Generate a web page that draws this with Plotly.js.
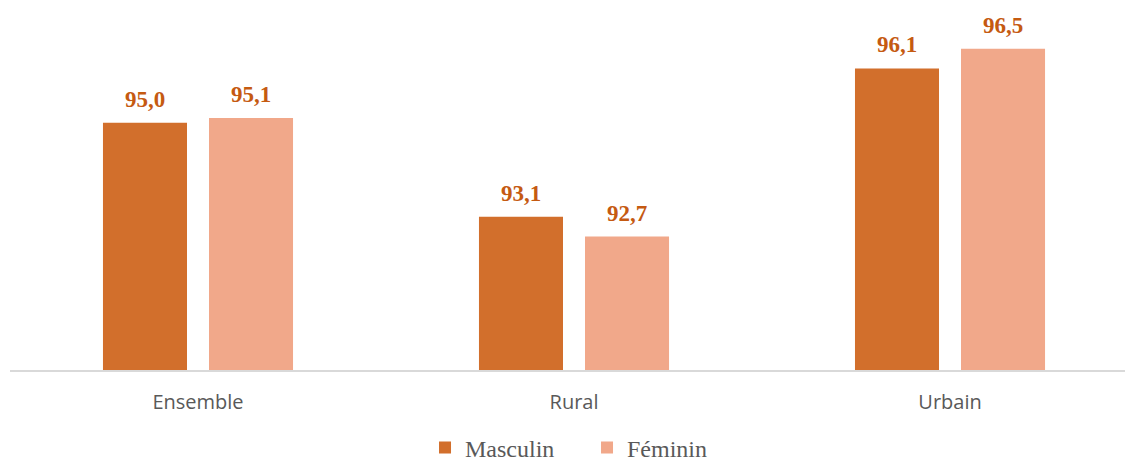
<!DOCTYPE html>
<html>
<head>
<meta charset="utf-8">
<script src="https://cdn.plot.ly/plotly-3.0.1.min.js"></script>
<style>html,body{margin:0;padding:0;background:#fff;}#chart{width:1125px;height:461px;}</style>
</head>
<body>
<div id="chart"></div>
<script>
const categories = ["Ensemble", "Rural", "Urbain"];
const masculin = [95.0, 93.1, 96.1];
const feminin = [95.1, 92.7, 96.5];
const seriesNames = ["Masculin", "Féminin"];
const seriesColors = ["#D26F2C", "#F1A88A"];

function fmt(v){ return v.toFixed(1).replace('.', ','); }

const labelFont = {family: "Liberation Serif, Times New Roman, serif", size: 23, color: "#C55A11", weight: 700};

const seriesValues = [masculin, feminin];
const traces = seriesValues.map((vals, i) => ({
  type: "bar", name: seriesNames[i], x: categories, y: vals,
  marker: {color: seriesColors[i]}, hoverinfo: "none"
}));

// value labels above each bar (bar centres are ±53 px from group centre)
const offsets = [-53, 53];
const annotations = [];
seriesValues.forEach((vals, i) => {
  vals.forEach((v, j) => {
    annotations.push({x: categories[j], y: v, xref: "x", yref: "y", text: fmt(v),
      showarrow: false, xshift: offsets[i], yshift: 9, yanchor: "bottom", xanchor: "center",
      font: labelFont});
  });
});

const layout = {
  width: 1125, height: 461,
  margin: {l: 10, r: 0, t: 24, b: 91, autoexpand: false},
  paper_bgcolor: "#fff", plot_bgcolor: "#fff",
  barmode: "group", bargap: 0.436, bargroupgap: 0.2075,
  showlegend: true,
  legend: {orientation: "h", x: 0.5175, xanchor: "center", y: -0.225, yanchor: "middle",
           font: {family: "Liberation Serif, Times New Roman, serif", size: 24, color: "#595959"},
           itemwidth: 30, entrywidth: 117, entrywidthmode: "pixels", traceorder: "normal"},
  annotations: annotations,
  xaxis: {type: "category", range: [-0.5, 2.4654], showline: true, linecolor: "#D9D9D9", linewidth: 2,
          ticks: "", tickfont: {family: "Open Sans, sans-serif", size: 20, color: "#595959"},
          ticklabelstandoff: 13, automargin: false, fixedrange: true},
  yaxis: {range: [90, 97], visible: false, showgrid: false, zeroline: false, fixedrange: true}
};

Plotly.newPlot("chart", traces, layout, {displayModeBar: false, staticPlot: true});
</script>
</body>
</html>
